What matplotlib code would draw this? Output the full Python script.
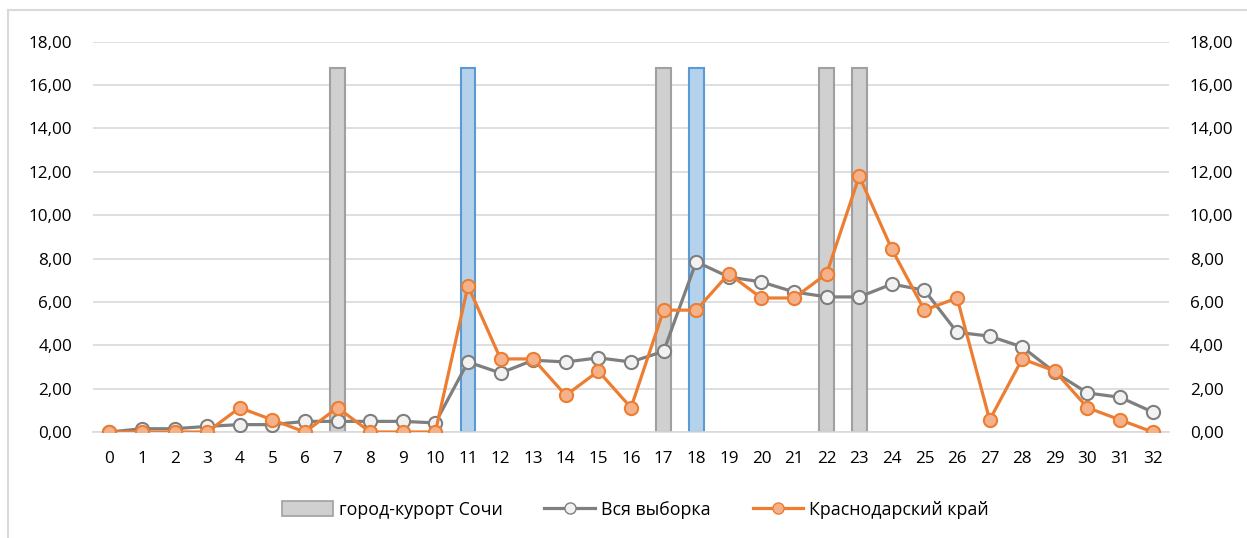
import numpy as np
import matplotlib
matplotlib.use('Agg')
import matplotlib.pyplot as plt
from matplotlib.ticker import FuncFormatter, MultipleLocator
from matplotlib.patches import Patch
from matplotlib.lines import Line2D

plt.rcParams['font.family'] = ['Open Sans', 'DejaVu Sans']

# data
categories = list(range(33))
sochi_cats = [7, 11, 17, 18, 22, 23]
sochi_vals = [16.8, 16.8, 16.8, 16.8, 16.8, 16.8]
sochi_blue = [11, 18]
vsya = [0.0, 0.15, 0.15, 0.26, 0.34, 0.34, 0.49, 0.49, 0.49, 0.49, 0.42,
        3.23, 2.72, 3.31, 3.23, 3.42, 3.23, 3.72, 7.85, 7.15, 6.92, 6.46,
        6.23, 6.23, 6.82, 6.54, 4.60, 4.42, 3.92, 2.75, 1.80, 1.60, 0.92]
krai = [0, 0, 0, 0, 1.12, 0.56, 0, 1.12, 0, 0, 0,
        6.74, 3.37, 3.37, 1.69, 2.81, 1.12, 5.62, 5.62, 7.30, 6.18, 6.18,
        7.30, 11.80, 8.43, 5.62, 6.18, 0.56, 3.37, 2.81, 1.12, 0.56, 0]

fig = plt.figure(figsize=(12.47, 5.38), dpi=100)
ax = fig.add_axes([93 / 1247, 106 / 538, (1169 - 93) / 1247, (432 - 41.7) / 538])

# outer chart frame (left and top edges visible)
fig.add_artist(Line2D([8 / 1247, 8 / 1247], [0, 1 - 10 / 538], transform=fig.transFigure,
                      color='#D9D9D9', lw=1.5))
fig.add_artist(Line2D([8 / 1247, 1], [1 - 10 / 538, 1 - 10 / 538], transform=fig.transFigure,
                      color='#D9D9D9', lw=1.5))

face = ['#B5D2EC' if c in sochi_blue else '#D0D0D0' for c in sochi_cats]
edge = ['#5B9BD5' if c in sochi_blue else '#A0A0A0' for c in sochi_cats]
ax.bar(sochi_cats, sochi_vals, width=0.45, color=face, edgecolor=edge, linewidth=1.5, zorder=2)

ax.plot(categories, vsya, color='#7F7F7F', lw=2.3, marker='o', ms=9.5,
        mfc='#F2F2F2', mec='#7F7F7F', mew=1.5, zorder=3)
ax.plot(categories, krai, color='#ED7D31', lw=2.3, marker='o', ms=9.5,
        mfc='#F5B28A', mec='#ED7D31', mew=1.5, zorder=4)

ax.set_xlim(-0.5, 32.5)
ax.set_ylim(0, 18)
ax.set_xticks(categories)
ax.yaxis.set_major_locator(MultipleLocator(2))
ax.yaxis.set_major_formatter(FuncFormatter(lambda v, p: '{:.2f}'.format(v).replace('.', ',')))
ax.grid(axis='y', color='#D9D9D9', lw=1.2, zorder=0)
ax.set_axisbelow(True)
for s in ['top', 'right', 'left']:
    ax.spines[s].set_visible(False)
ax.spines['bottom'].set_color('#D9D9D9')
ax.spines['bottom'].set_linewidth(1.2)
ax.tick_params(axis='x', length=0, pad=14, labelsize=12.3)
ax.tick_params(axis='y', length=0, pad=15, labelsize=12.3, labelright=True)

handles = [Patch(facecolor='#D0D0D0', edgecolor='#A0A0A0', lw=1.2),
           Line2D([], [], color='#7F7F7F', lw=2.3, marker='o', ms=8, mfc='#F2F2F2', mec='#7F7F7F'),
           Line2D([], [], color='#ED7D31', lw=2.3, marker='o', ms=8, mfc='#F5B28A', mec='#ED7D31')]
labels = ['город-курорт Сочи', 'Вся выборка', 'Краснодарский край']
fig.legend(handles, labels, loc='center', bbox_to_anchor=(635.5 / 1247, 1 - 510 / 538), ncol=3,
           frameon=False, fontsize=12.8, handlelength=2.85, handleheight=0.9,
           handletextpad=0.34, columnspacing=2.36)

fig.savefig('out.png', dpi=100)
